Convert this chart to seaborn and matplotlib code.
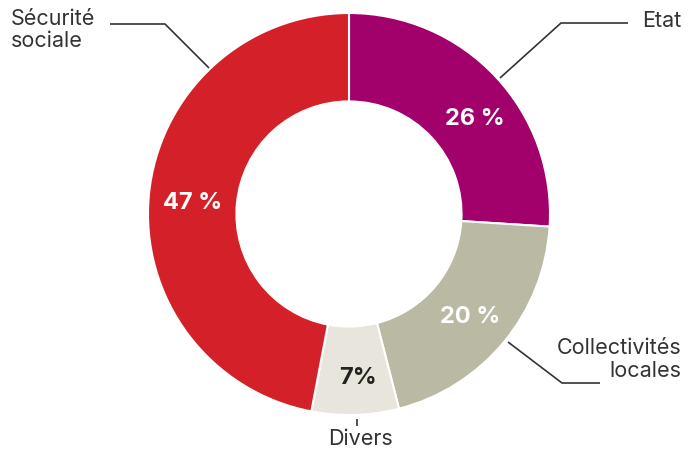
import matplotlib
matplotlib.use("Agg")
import matplotlib.pyplot as plt
import seaborn as sns

sns.set_theme(style="white")
plt.rcParams["font.family"] = ["Inter", "DejaVu Sans"]

# ── Data ───────────────────────────────────────────────
categories = ["Etat", "Collectivités locales", "Divers", "Sécurité sociale"]
shares = [26, 20, 7, 47]
pct_labels = ["26 %", "20 %", "7%", "47 %"]
colors = ["#A2006B", "#B9B9A4", "#E7E5DC", "#D42129"]
pct_colors = ["white", "white", "#222222", "white"]

W, H = 697, 453
TXT = "#333333"

fig = plt.figure(figsize=(W / 100, H / 100), dpi=100)
ax = fig.add_axes([0, 0, 1, 1])


def py(y):
    # pixel row (from top) -> data y
    return H - y


# ── Donut ──────────────────────────────────────────────
cx, cy, R = 349, 214, 201
ax.pie(shares, colors=colors, startangle=90, counterclock=False,
       center=(cx, py(cy)), radius=R, frame=True,
       wedgeprops=dict(width=R * 0.44, edgecolor="white", linewidth=1.5))
ax.set_xlim(0, W)
ax.set_ylim(0, H)
ax.set_axis_off()

# percent labels inside the ring
pct_pos = [(475, 119), (470, 317), (358, 378), (193, 203)]
for lab, col, (x, y) in zip(pct_labels, pct_colors, pct_pos):
    ax.text(x, py(y), lab, ha="center", va="center", fontsize=17,
            fontweight="bold", color=col)

# ── Leader lines & category labels ─────────────────────
line_kw = dict(color=TXT, lw=1.2, solid_capstyle="butt")
FS = 15.5

# Sécurité sociale
ax.plot([110, 165, 209], [py(24), py(24), py(68)], **line_kw)
ax.text(11, py(9), "Sécurité\nsociale", ha="left", va="top",
        fontsize=FS, color=TXT, linespacing=1.15)

# Etat
ax.plot([500, 561, 628], [py(78), py(23), py(23)], **line_kw)
ax.text(681, py(21), "Etat", ha="right", va="center",
        fontsize=FS, color=TXT)

# Collectivités locales
ax.plot([508, 562, 600], [py(342), py(383), py(383)], **line_kw)
ax.text(681, py(338), "Collectivités\nlocales", ha="right", va="top",
        fontsize=FS, color=TXT, linespacing=1.2, multialignment="right")

# Divers
ax.plot([357, 357], [py(419), py(426)], **line_kw)
ax.text(360, py(439), "Divers", ha="center", va="center",
        fontsize=FS, color=TXT)

fig.savefig("out.png", dpi=100, facecolor="white")
